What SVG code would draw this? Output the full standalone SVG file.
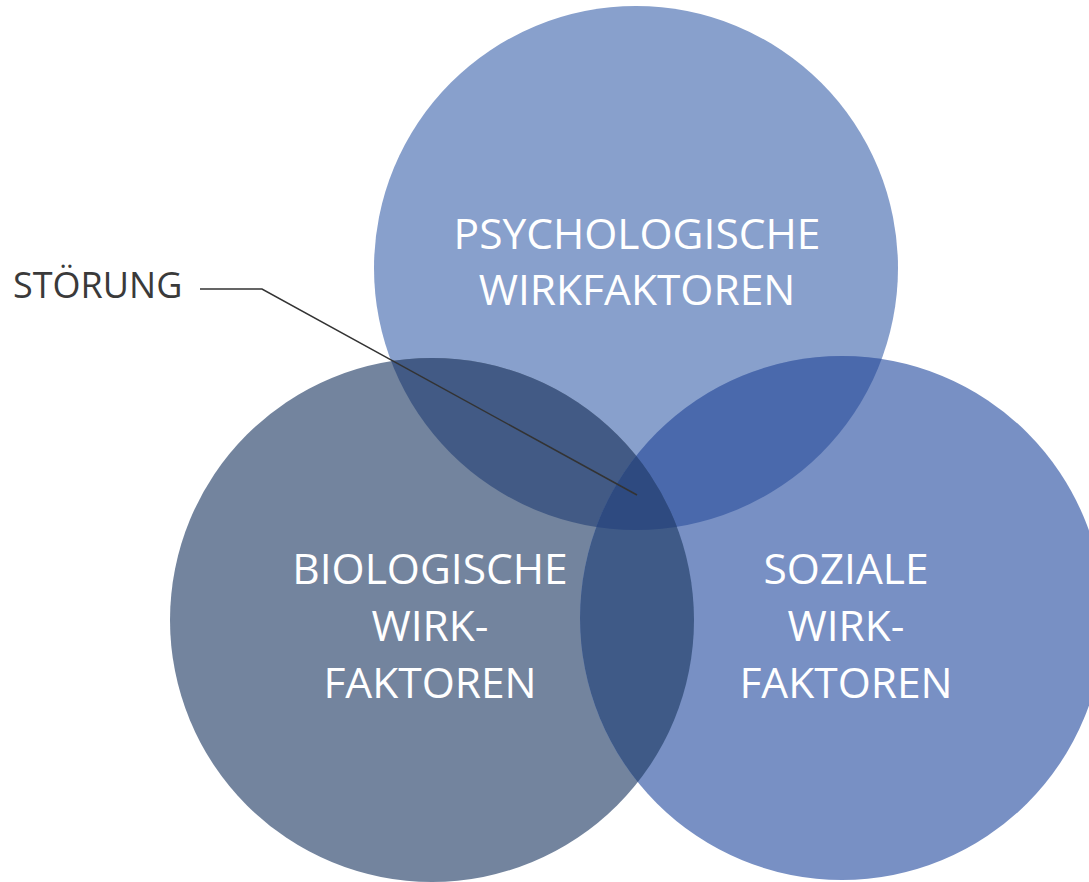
<svg xmlns="http://www.w3.org/2000/svg" width="1089" height="882" viewBox="0 0 1089 882">
<style>
.lbl{font-family:"Open Sans","Liberation Sans",sans-serif;font-size:42.5px;fill:#ffffff;text-anchor:middle}
.ann{font-family:"Open Sans","Liberation Sans",sans-serif;font-size:36px;fill:#3a3a3a}
.conn{fill:none;stroke:#333333;stroke-width:1.5}
</style>
<defs>
<clipPath id="cT"><circle cx="636" cy="268" r="262"/></clipPath>
<clipPath id="cL"><circle cx="432" cy="620" r="262"/></clipPath>
<clipPath id="cR"><circle cx="842" cy="618" r="262"/></clipPath>
</defs>
<rect width="1089" height="882" fill="#ffffff"/>
<g id="psychologisch">
<circle cx="636" cy="268" r="262" fill="#88A0CC"/>
</g>
<g id="biologisch">
<circle cx="432" cy="620" r="262" fill="#73849E"/>
</g>
<g id="sozial">
<circle cx="842" cy="618" r="262" fill="#7890C4"/>
</g>
<g id="overlaps">
<circle cx="432" cy="620" r="262" fill="#425A85" clip-path="url(#cT)"/>
<circle cx="842" cy="618" r="262" fill="#4A69AC" clip-path="url(#cT)"/>
<circle cx="842" cy="618" r="262" fill="#3F5A87" clip-path="url(#cL)"/>
<g clip-path="url(#cT)"><circle cx="842" cy="618" r="262" fill="#2E4A80" clip-path="url(#cL)"/></g>
</g>
<g id="labels">
<text class="lbl" x="637" y="249">PSYCHOLOGISCHE</text>
<text class="lbl" x="637" y="305">WIRKFAKTOREN</text>
<text class="lbl" x="430" y="584">BIOLOGISCHE</text>
<text class="lbl" x="430" y="641">WIRK-</text>
<text class="lbl" x="430" y="698">FAKTOREN</text>
<text class="lbl" x="846" y="584">SOZIALE</text>
<text class="lbl" x="846" y="641">WIRK-</text>
<text class="lbl" x="846" y="698">FAKTOREN</text>
</g>
<g id="stoerung">
<text class="ann" x="13" y="298">STÖRUNG</text>
</g>
<g id="connectors">
<polyline class="conn" points="200,289 262,289 637,495"/>
</g>
</svg>
